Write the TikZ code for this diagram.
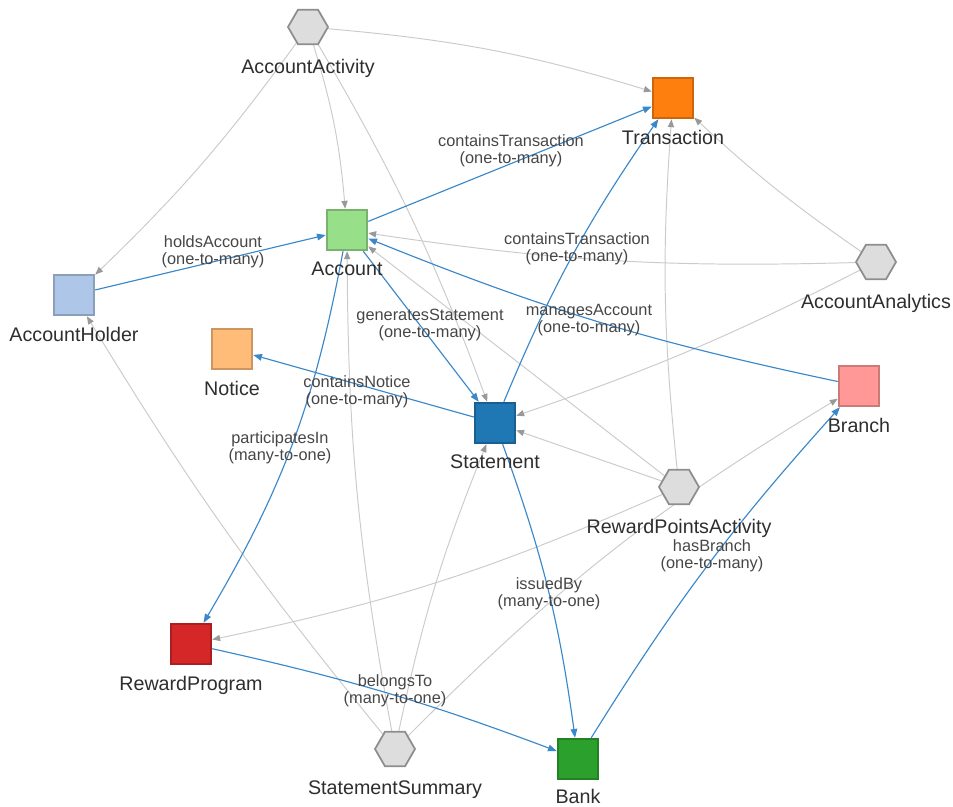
\documentclass[tikz,border=0pt]{standalone}
\usepackage{fontspec}
\setmainfont{Liberation Sans}
\usetikzlibrary{positioning,shapes.geometric,arrows.meta,backgrounds}
\definecolor{RelBlue}{HTML}{3A88CA}
\definecolor{LinkGray}{HTML}{CBCBCB}
\definecolor{TipGray}{HTML}{999999}
\definecolor{NodeText}{HTML}{2E2E2E}
\definecolor{EdgeText}{HTML}{464646}
\definecolor{HexFill}{HTML}{DDDDDD}
\definecolor{HexLine}{HTML}{8E8E8E}
\definecolor{TrFill}{HTML}{FF7F0E}\definecolor{TrLine}{HTML}{CC650B}
\definecolor{AcFill}{HTML}{98DF8A}\definecolor{AcLine}{HTML}{79B26E}
\definecolor{AhFill}{HTML}{AEC7E8}\definecolor{AhLine}{HTML}{8B9FBA}
\definecolor{NoFill}{HTML}{FFBB78}\definecolor{NoLine}{HTML}{CC9660}
\definecolor{BrFill}{HTML}{FF9896}\definecolor{BrLine}{HTML}{CC7A78}
\definecolor{StFill}{HTML}{1F77B4}\definecolor{StLine}{HTML}{195F90}
\definecolor{RpFill}{HTML}{D62728}\definecolor{RpLine}{HTML}{AB1F20}
\definecolor{BkFill}{HTML}{2CA02C}\definecolor{BkLine}{HTML}{238023}
\tikzset{
  entity/.style={rectangle,minimum size=0.8cm,line width=1.4pt,inner sep=0pt},
  activity/.style={regular polygon,regular polygon sides=6,minimum size=0.8cm,
    inner sep=0pt,fill=HexFill,draw=HexLine,line width=1pt},
  nlbl/.style={font=\fontsize{11.2}{12}\selectfont,text=NodeText,inner sep=0pt},
  elbl/.style={font=\fontsize{9.3}{9.4}\selectfont,text=EdgeText,align=center,inner sep=0pt},
  rel/.style={draw=RelBlue,line width=0.65pt,-{Triangle[length=5pt,width=3.8pt]}},
  dep/.style={draw=LinkGray,line width=0.55pt,-{Triangle[length=4.5pt,width=3.5pt,color=TipGray]}},
}
\begin{document}
\begin{tikzpicture}[x=0.02cm,y=-0.02cm]
  \useasboundingbox (0,0) rectangle (953,807);
  % entities
  \node[entity,fill=TrFill,draw=TrLine] (tr) at (673,98) {};
  \node[entity,fill=AcFill,draw=AcLine] (ac) at (347,230) {};
  \node[entity,fill=AhFill,draw=AhLine] (ah) at (74,295) {};
  \node[entity,fill=NoFill,draw=NoLine] (no) at (232,349) {};
  \node[entity,fill=BrFill,draw=BrLine] (br) at (859,386) {};
  \node[entity,fill=StFill,draw=StLine] (st) at (495,423) {};
  \node[entity,fill=RpFill,draw=RpLine] (rp) at (191,644) {};
  \node[entity,fill=BkFill,draw=BkLine] (bk) at (578,759) {};
  % activities
  \node[activity] (aa) at (308,27) {};
  \node[activity] (aan) at (876,262) {};
  \node[activity] (rpa) at (679,487) {};
  \node[activity] (ss) at (395,749) {};
  % names
  \node[nlbl,below=0.63cm of tr.center] (trL) {Transaction};
  \node[nlbl,below=0.63cm of ac.center] (acL) {Account};
  \node[nlbl,below=0.63cm of ah.center] (ahL) {AccountHolder};
  \node[nlbl,below=0.63cm of no.center] (noL) {Notice};
  \node[nlbl,below=0.63cm of br.center] (brL) {Branch};
  \node[nlbl,below=0.63cm of st.center] (stL) {Statement};
  \node[nlbl,below=0.63cm of rp.center] (rpL) {RewardProgram};
  \node[nlbl,below=0.6cm of bk.center] (bkL) {Bank};
  \node[nlbl,below=0.63cm of aa.center] (aaL) {AccountActivity};
  \node[nlbl,below=0.63cm of aan.center] (aanL) {AccountAnalytics};
  \node[nlbl,below=0.63cm of rpa.center] (rpaL) {RewardPointsActivity};
  \node[nlbl,below=0.63cm of ss.center] (ssL) {StatementSummary};
  % relation labels
  \node[elbl] (ctA) at (511,151) {containsTransaction\\(one-to-many)};
  \node[elbl] (ha) at (213,252) {holdsAccount\\(one-to-many)};
  \node[elbl] (ctS) at (577,249) {containsTransaction\\(one-to-many)};
  \node[elbl] (ma) at (589,320) {managesAccount\\(one-to-many)};
  \node[elbl] (gs) at (430,325) {generatesStatement\\(one-to-many)};
  \node[elbl] (cn) at (357,392) {containsNotice\\(one-to-many)};
  \node[elbl] (pi) at (280,448) {participatesIn\\(many-to-one)};
  \node[elbl] (ib) at (549,594) {issuedBy\\(many-to-one)};
  \node[elbl] (hb) at (712,556) {hasBranch\\(one-to-many)};
  \node[elbl] (bt) at (395,691) {belongsTo\\(many-to-one)};
  \begin{scope}[on background layer]
    % activity links
    \draw[dep] (aa) to[bend left=6] (tr);
    \draw[dep] (aa) to[bend left=5] (ah);
    \draw[dep] (aa) to[bend left=6] (ac);
    \draw[dep] (aa) to[bend left=5] (st);
    \draw[dep] (aan) to[bend left=4] (tr);
    \draw[dep] (aan) to[bend left=5] (ac);
    \draw[dep] (aan) to[bend left=4] (st);
    \draw[dep] (rpa) to[bend left=5] (tr);
    \draw[dep] (rpa) -- (ac);
    \draw[dep] (rpa) -- (st);
    \draw[dep] (rpa) to[bend left=6] (rp);
    \draw[dep] (ss) to[bend left=5] (st);
    \draw[dep] (ss) to[bend left=5] (ac);
    \draw[dep] (ss) to[bend left=4] (ah);
    \draw[dep] (ss) to[bend left=7] (br);
    % relations
    \draw[rel] (ac) -- (tr);
    \draw[rel] (ah) -- (ac);
    \draw[rel] (st) to[bend left=6] (tr);
    \draw[rel] (br) to[bend left=5] (ac);
    \draw[rel] (ac) -- (st);
    \draw[rel] (st) -- (no);
    \draw[rel] (ac) to[bend left=10] (rp);
    \draw[rel] (st) to[bend left=6] (bk);
    \draw[rel] (bk) to[bend left=5] (br);
    \draw[rel] (rp) to[bend left=4] (bk);
  \end{scope}
\end{tikzpicture}
\end{document}
